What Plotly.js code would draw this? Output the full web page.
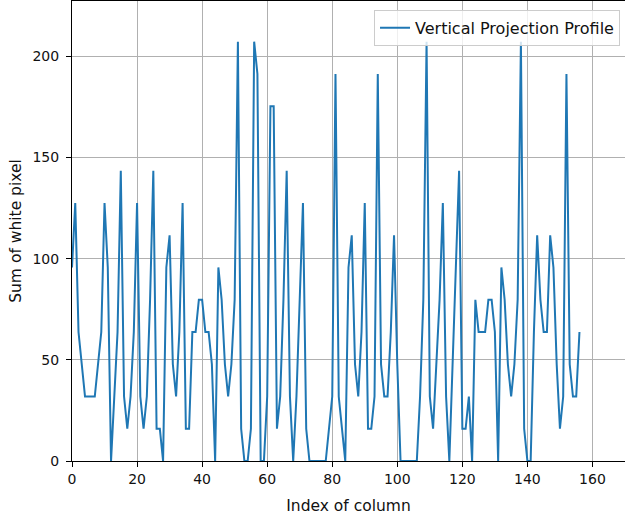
<!DOCTYPE html>
<html>
<head>
<meta charset="utf-8">
<script src="https://cdn.plot.ly/plotly-3.0.1.min.js"></script>
<style>html,body{margin:0;padding:0;background:#fff;}#chart{width:625px;height:520px;}</style>
</head>
<body>
<div id="chart"></div>
<script>
// Column indices 0..156 and the sum of white pixels
const columnIndex = [
  0,1,2,3,4,5,6,7,8,9,10,11,12,13,14,15,16,17,18,19,
  20,21,22,23,24,25,26,27,28,29,30,31,32,33,34,35,36,37,38,39,
  40,41,42,43,44,45,46,47,48,49,50,51,52,53,54,55,56,57,58,59,
  60,61,62,63,64,65,66,67,68,69,70,71,72,73,74,75,76,77,78,79,
  80,81,82,83,84,85,86,87,88,89,90,91,92,93,94,95,96,97,98,99,
  100,101,102,103,104,105,106,107,108,109,110,111,112,113,114,115,116,117,118,119,
  120,121,122,123,124,125,126,127,128,129,130,131,132,133,134,135,136,137,138,139,
  140,141,142,143,144,145,146,147,148,149,150,151,152,153,154,155,156
];
const whitePixelSum = [
  95.63,127.5,63.75,47.81,31.88,31.88,31.88,31.88,47.81,63.75,
  127.5,95.63,0,31.88,63.75,143.44,31.88,15.94,31.88,63.75,
  127.5,31.88,15.94,31.88,79.69,143.44,15.94,15.94,0,95.63,
  111.56,47.81,31.88,63.75,127.5,15.94,15.94,63.75,63.75,79.69,
  79.69,63.75,63.75,47.81,0,95.63,79.69,47.81,31.88,47.81,
  79.69,207.19,15.94,0,0,15.94,207.19,191.25,0,0,
  31.88,175.31,175.31,15.94,31.88,79.69,143.44,31.88,0,31.88,
  79.69,127.5,15.94,0,0,0,0,0,0,15.94,
  31.88,191.25,31.88,15.94,0,95.63,111.56,47.81,31.88,63.75,
  127.5,15.94,15.94,31.88,191.25,47.81,31.88,31.88,63.75,111.56,
  47.81,0,0,0,0,0,0,31.88,79.69,207.19,
  31.88,15.94,47.81,79.69,127.5,31.88,0,47.81,95.63,143.44,
  15.94,15.94,31.88,0,79.69,63.75,63.75,63.75,79.69,79.69,
  63.75,0,95.63,79.69,47.81,31.88,47.81,79.69,207.19,15.94,
  0,0,63.75,111.56,79.69,63.75,63.75,111.56,95.63,47.81,
  15.94,31.88,191.25,47.81,31.88,31.88,63.75
];
const xTicks = [0,20,40,60,80,100,120,140,160];
const yTicks = [0,50,100,150,200];
const seriesName = 'Vertical Projection Profile';
const xTitle = 'Index of column';
const yTitle = 'Sum of white pixel';

const tickFont = {family: 'DejaVu Sans, sans-serif', size: 14, color: '#111'};
const titleFont = {family: 'DejaVu Sans, sans-serif', size: 15.5, color: '#111'};
const legendFont = {family: 'DejaVu Sans, sans-serif', size: 16, color: '#111'};

const trace = {
  x: columnIndex,
  y: whitePixelSum,
  type: 'scatter',
  mode: 'lines',
  name: seriesName,
  line: {color: '#1f77b4', width: 2},
  showlegend: true
};

const layout = {
  width: 625,
  height: 520,
  margin: {l: 72, r: 0, t: 1, b: 59},
  paper_bgcolor: '#fff',
  plot_bgcolor: '#fff',
  font: tickFont,
  showlegend: true,
  legend: {
    x: 0.991, y: 0.981, xanchor: 'right', yanchor: 'top',
    bgcolor: 'rgba(255,255,255,0.8)', bordercolor: '#cccccc', borderwidth: 1,
    font: legendFont
  },
  xaxis: {
    range: [0, 170],
    tickvals: xTicks,
    ticktext: xTicks.map(String),
    showgrid: true, gridcolor: '#b0b0b0', gridwidth: 1,
    zeroline: false,
    showline: true, linecolor: '#000', linewidth: 1, mirror: true,
    ticks: 'outside', ticklen: 5, tickwidth: 1, tickcolor: '#000',
    tickfont: tickFont,
    title: {text: xTitle, font: titleFont, standoff: 14}
  },
  yaxis: {
    range: [0, 227.3],
    tickvals: yTicks,
    ticktext: yTicks.map(String),
    showgrid: true, gridcolor: '#b0b0b0', gridwidth: 1,
    zeroline: false,
    showline: true, linecolor: '#000', linewidth: 1, mirror: false,
    ticks: 'outside', ticklen: 5, tickwidth: 1, tickcolor: '#000',
    tickfont: tickFont,
    ticklabelstandoff: 4,
    title: {text: yTitle, font: titleFont, standoff: 7}
  }
};

Plotly.newPlot('chart', [trace], layout, {displayModeBar: false, staticPlot: true});
</script>
</body>
</html>
